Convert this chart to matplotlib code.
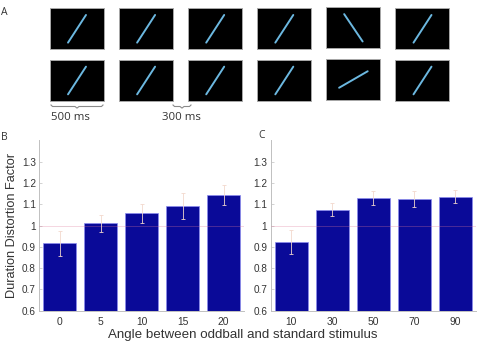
import matplotlib
matplotlib.use("Agg")
import matplotlib.pyplot as plt
import numpy as np
from matplotlib.patches import Rectangle

# ---------------- data ----------------
angles_b = ["0", "5", "10", "15", "20"]
ddf_b = [0.916, 1.010, 1.057, 1.093, 1.143]
err_b = [0.060, 0.040, 0.043, 0.060, 0.047]

angles_c = ["10", "30", "50", "70", "90"]
ddf_c = [0.922, 1.074, 1.128, 1.123, 1.135]
err_c = [0.055, 0.030, 0.033, 0.037, 0.030]

yticks = [0.6, 0.7, 0.8, 0.9, 1.0, 1.1, 1.2, 1.3]
yticklabels = ["0.6", "0.7", "0.8", "0.9", "1", "1.1", "1.2", "1.3"]

# stimulus orientations (degrees) in the two example sequences
row1_orient = [57, 57, 57, 57, 124, 57]
row2_orient = [57, 57, 57, 57, 30, 57]

W, H = 479, 345
fig = plt.figure(figsize=(W / 100, H / 100), dpi=100)
plt.rcParams['font.family'] = ['Liberation Sans', 'DejaVu Sans']

BAR = '#0a0a98'
EDGE = '#8c8cf0'
ERR = '#f2d8cc'
REF = '#e07a9a'
SPINE = '#c0c0c0'


def fx(px):
    return px / W


def fy(py):
    return 1 - py / H


# ---------------- panel A (schematic) ----------------
axA = fig.add_axes([0, fy(128), 1, 128 / H])
axA.set_xlim(0, W)
axA.set_ylim(128, 0)
axA.axis('off')

rect_w, rect_h = 54, 41
pitch = 69.1
x0 = 50
row_tops = [8.3, 60.0]
line_len = 33
for r, orients in enumerate([row1_orient, row2_orient]):
    for i, ang in enumerate(orients):
        lx = x0 + i * pitch
        ty = row_tops[r] - (1.0 if i == 4 else 0.0)
        axA.add_patch(Rectangle((lx, ty), rect_w, rect_h, facecolor='black',
                                edgecolor='#a8a8a8', lw=0.7))
        cx, cy = lx + rect_w / 2, ty + rect_h / 2
        dx = np.cos(np.radians(ang)) * line_len / 2
        dy = np.sin(np.radians(ang)) * line_len / 2
        axA.plot([cx - dx, cx + dx], [cy + dy, cy - dy], color='#6cb8e0',
                 lw=1.4, solid_capstyle='round')


def brace(ax, xa, xb, y):
    xm = (xa + xb) / 2
    xs = [xa, xa + 1.5, xm - 2, xm, xm + 2, xb - 1.5, xb]
    ys = [y - 1.5, y, y, y + 1.6, y, y, y - 1.5]
    ax.plot(xs, ys, color='#8a8a8a', lw=0.8)


brace(axA, 51, 103, 106.5)
brace(axA, 173, 191, 106.5)
axA.text(51, 118, "500 ms", fontsize=8.2, family=['Open Sans', 'DejaVu Sans'],
         color='#333333', va='center', ha='left')
axA.text(162, 118, "300 ms", fontsize=8.2, family=['Open Sans', 'DejaVu Sans'],
         color='#333333', va='center', ha='left')
axA.text(1, 12.5, "A", fontsize=7.5, family=['Open Sans', 'DejaVu Sans'],
         color='#333333', va='center', ha='left')


# ---------------- panels B and C ----------------
def bar_panel(rect, cats, vals, errs):
    ax = fig.add_axes(rect)
    x = np.arange(len(cats))
    ax.bar(x, vals, width=0.8, color=BAR, edgecolor=EDGE, linewidth=0.5,
           bottom=0, zorder=2)
    ax.errorbar(x, vals, yerr=errs, fmt='none', ecolor=ERR, elinewidth=0.7,
                capsize=1.5, capthick=0.7, zorder=4, alpha=0.85)
    ax.axhline(1.0, color=REF, lw=0.7, alpha=0.3, zorder=3)
    ax.set_ylim(0.6, 1.4)
    ax.set_xlim(-0.5, 4.5)
    ax.set_yticks(yticks)
    ax.set_yticklabels(yticklabels)
    ax.set_xticks(x)
    ax.set_xticklabels(cats)
    for s in ['top', 'right']:
        ax.spines[s].set_visible(False)
    for s in ['left', 'bottom']:
        ax.spines[s].set_color(SPINE)
        ax.spines[s].set_linewidth(0.7)
    ax.tick_params(axis='y', direction='in', length=2, width=0.5,
                   color=SPINE, labelsize=7.2, pad=2.5, labelcolor='#333333')
    ax.tick_params(axis='x', length=0, labelsize=7.4, pad=4.5,
                   labelcolor='#333333')
    ax.set_facecolor('none')
    return ax


bottom = fy(310.7)
height = (310.7 - 140.4) / H
axB = bar_panel([fx(39.3), bottom, fx(244 - 39.3), height], angles_b, ddf_b, err_b)
axC = bar_panel([fx(270.7), bottom, fx(476 - 270.7), height], angles_c, ddf_c, err_c)

axB.set_ylabel("Duration Distortion Factor", fontsize=9.2, color='#333333',
               labelpad=3)
fig.text(fx(243), fy(335), "Angle between oddball and standard stimulus",
         fontsize=9.6, color='#333333', ha='center', va='center')
fig.text(fx(1), fy(137), "B", fontsize=7.5, family=['Open Sans', 'DejaVu Sans'],
         color='#333333', ha='left', va='center')
fig.text(fx(258), fy(136), "C", fontsize=7.5, family=['Open Sans', 'DejaVu Sans'],
         color='#333333', ha='left', va='center')

fig.savefig("out.png", dpi=100, facecolor='white')
